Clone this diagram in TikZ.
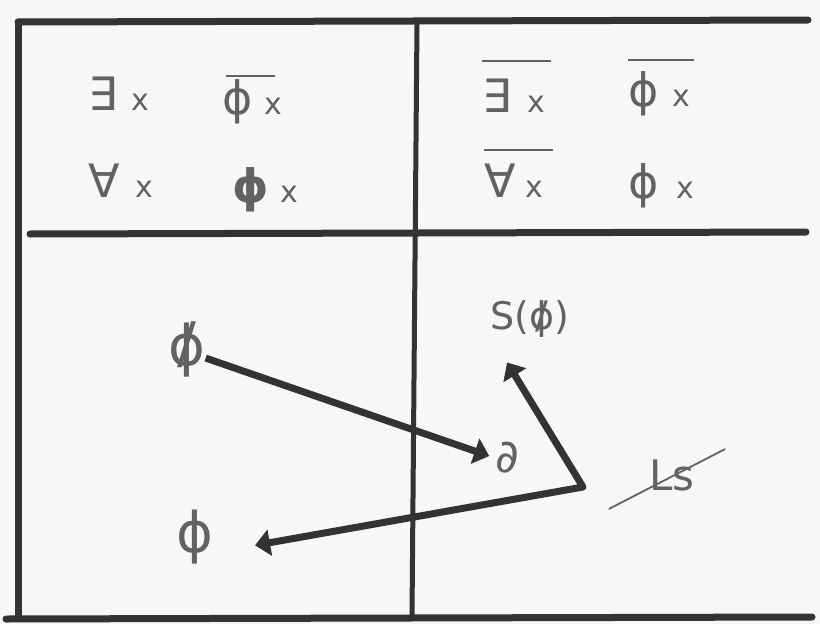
\documentclass[tikz,border=0pt]{standalone}
\usepackage{fontspec}
\setmainfont{DejaVu Sans}
\usetikzlibrary{arrows.meta,calc}
\definecolor{ink}{HTML}{333333}
\definecolor{pencil}{HTML}{626262}
\definecolor{paper}{HTML}{F7F7F7}
\newcommand{\sx}{{\fontsize{30}{32}\selectfont x}}
\newcommand{\ovlgap}[2]{\vbox{\hrule height 2.4pt\kern #1\hbox{#2}}}
\newcommand{\strk}[1]{\ooalign{#1\cr\hidewidth\raisebox{0.05em}{/}\hidewidth}}
\tikzset{
  frameline/.style={draw=ink, line width=7pt, line cap=round},
  sym/.style={text=pencil, inner sep=0pt, font=\fontsize{46}{50}\selectfont},
  bigsym/.style={text=pencil, inner sep=0pt, font=\fontsize{56}{60}\selectfont},
  smallsym/.style={text=pencil, inner sep=0pt, font=\fontsize{46}{48}\selectfont},
  arr/.style={draw=ink, line width=7pt, line join=round,
    -{Triangle[width=26pt,length=15pt]}},
  arrboth/.style={draw=ink, line width=7pt, line join=round,
    {Triangle[width=26pt,length=15pt]}-{Triangle[width=26pt,length=15pt]}},
  strike/.style={draw=pencil, line width=1.8pt, line cap=round}
}
\begin{document}
\begin{tikzpicture}[x=1pt,y=-1pt]
\useasboundingbox[fill=paper] (0,0) rectangle (820,624);
% frame
\coordinate (tl) at (18,22);
\coordinate (tr) at (808,20);
\coordinate (bl) at (18,618);
\coordinate (blx) at (6,619);
\coordinate (br) at (812,617);
\coordinate (ml) at (30,234);
\coordinate (mr) at (806,232);
\coordinate (vt) at (417,22);
\coordinate (vb) at (412,617);
\draw[frameline] (tl) -- (tr);
\draw[frameline] (tl) -- (bl);
\draw[frameline] (blx) -- (br);
\draw[frameline] (ml) -- (mr);
\draw[frameline, line width=5pt] (vt) -- (vb);
% top-left cell
\node[sym, anchor=base west] (e1) at (88,110) {∃\hspace{14pt}\sx};
\node[sym, anchor=base west] (p1) at (226,114) {\ovlgap{2pt}{\hspace{-4pt}ϕ\hspace{22pt}}\hspace{-10pt}\sx};
\node[sym, anchor=base west] (a1) at (88,197) {∀\hspace{16pt}\sx};
\node[sym, anchor=base west] (p2) at (232,202) {\textbf{ϕ}\hspace{12pt}\sx};
% top-right cell
\node[sym, anchor=base west] (e2) at (482,112) {\ovlgap{16pt}{∃\hspace{16pt}\sx\hspace{6pt}}};
\node[sym, anchor=base west] (p3) at (628,106) {\ovlgap{10pt}{ϕ\hspace{14pt}\sx\hspace{4pt}}};
\node[sym, anchor=base west] (a2) at (484,197) {\ovlgap{12pt}{∀\hspace{10pt}\sx\hspace{10pt}}};
\node[sym, anchor=base west] (p4) at (628,198) {ϕ\hspace{18pt}\sx};
% bottom
\node[bigsym] (nphi) at (187,345) {\strk{ϕ}};
\node[smallsym] (d) at (507,458) {∂};
\node[sym, font=\fontsize{38}{40}\selectfont] (S) at (530,318) {S(\strk{ϕ})};
\node[sym, font=\fontsize{42}{44}\selectfont] (ks) at (672,475) {Ls};
\node[bigsym] (phi) at (195,537) {ϕ};
\coordinate (c) at (583,487);
\draw[strike] ($(ks.south west)+(-40,18)$) -- ($(ks.north east)+(30,-10)$);
\draw[arr, shorten >=6pt] (nphi.-35) -- (d.west);
\draw[arrboth, shorten <=42pt, shorten >=32pt] (phi.-40) -- (c) -- (S.south west);
\end{tikzpicture}
\end{document}
